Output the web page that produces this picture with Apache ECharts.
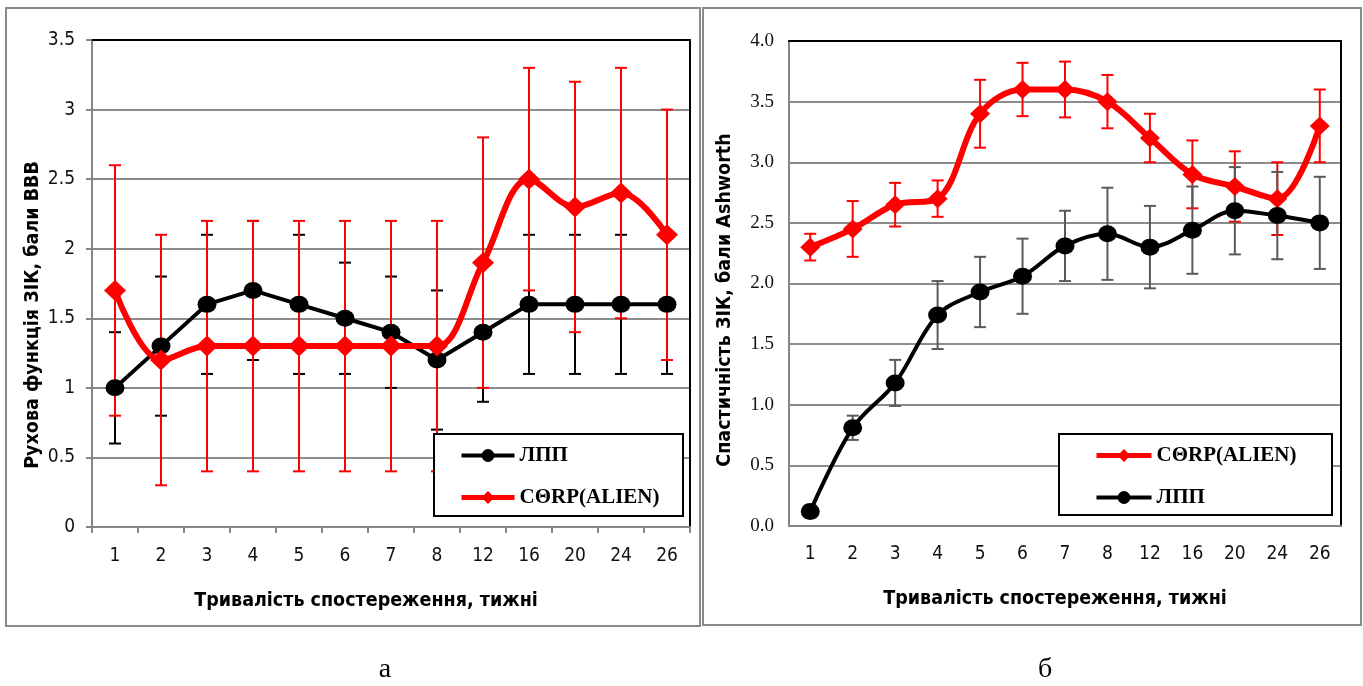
<!DOCTYPE html>
<html>
<head>
<meta charset="utf-8">
<script src="https://cdn.jsdelivr.net/npm/echarts@6/dist/echarts.min.js"></script>
<style>
  html, body { margin: 0; padding: 0; background: #fff; }
  #chart { width: 1363px; height: 686px; }
</style>
</head>
<body>
<div id="chart"></div>
<script>
// Observation weeks (shared category axis of both panels)
const weeks = ['1', '2', '3', '4', '5', '6', '7', '8', '12', '16', '20', '24', '26'];

// Panel "а": motor function of the hind limbs, BBB score
const bbbLpp      = [1.0, 1.3, 1.6, 1.7, 1.6, 1.5, 1.4, 1.2, 1.4, 1.6, 1.6, 1.6, 1.6];
const bbbLppErr   = [0.4, 0.5, 0.5, 0.5, 0.5, 0.4, 0.4, 0.5, 0.5, 0.5, 0.5, 0.5, 0.5];
const bbbCorp     = [1.7, 1.2, 1.3, 1.3, 1.3, 1.3, 1.3, 1.3, 1.9, 2.5, 2.3, 2.4, 2.1];
const bbbCorpErr  = [0.9, 0.9, 0.9, 0.9, 0.9, 0.9, 0.9, 0.9, 0.9, 0.8, 0.9, 0.9, 0.9];

// Panel "б": spasticity, Ashworth score
const ashCorp     = [2.3, 2.45, 2.65, 2.7, 3.4, 3.6, 3.6, 3.5, 3.2, 2.9, 2.8, 2.7, 3.3];
const ashCorpErr  = [0.11, 0.23, 0.18, 0.15, 0.28, 0.22, 0.23, 0.22, 0.2, 0.28, 0.29, 0.3, 0.3];
const ashLpp      = [0.12, 0.81, 1.18, 1.74, 1.93, 2.06, 2.31, 2.41, 2.3, 2.44, 2.6, 2.56, 2.5];
const ashLppErr   = [0.05, 0.1, 0.19, 0.28, 0.29, 0.31, 0.29, 0.38, 0.34, 0.36, 0.36, 0.36, 0.38];

// Axis ranges
const bbbAxis = { min: 0, max: 3.5, interval: 0.5 };
const ashAxis = { min: 0, max: 4, interval: 0.5 };

const NAME_LPP = 'ЛПП';
const NAME_CORP = 'СΘRP(ALIEN)';

const SANS = "'Liberation Sans Narrow', 'DejaVu Sans Condensed', 'Liberation Sans', sans-serif";
const SERIF = "'Liberation Serif', 'DejaVu Serif', serif";
const GRID_GRAY = '#8c8c8c';

function errData(mean, err) {
  return mean.map((m, i) => [i, +(m - err[i]).toFixed(3), +(m + err[i]).toFixed(3)]);
}

function errorBarSeries(mean, err, color, axisIdx) {
  return {
    type: 'custom',
    xAxisIndex: axisIdx,
    yAxisIndex: axisIdx,
    data: errData(mean, err),
    encode: { x: 0, y: [1, 2] },
    silent: true,
    renderItem: function (params, api) {
      const idx = api.value(0);
      const top = api.coord([idx, api.value(2)]);
      const bot = api.coord([idx, api.value(1)]);
      const half = 6;
      const style = { stroke: color, lineWidth: 2 };
      return {
        type: 'group',
        children: [
          { type: 'line', shape: { x1: top[0], y1: top[1], x2: bot[0], y2: bot[1] }, style },
          { type: 'line', shape: { x1: top[0] - half, y1: top[1], x2: top[0] + half, y2: top[1] }, style },
          { type: 'line', shape: { x1: bot[0] - half, y1: bot[1], x2: bot[0] + half, y2: bot[1] }, style }
        ]
      };
    }
  };
}

const tickLabelSans = { fontFamily: SANS, fontSize: 19, color: '#111' };

const legendItems = {
  lpp: { name: NAME_LPP, lineStyle: { width: 4 } },
  corp: { name: NAME_CORP, lineStyle: { width: 5 } }
};

const legendCommon = {
  orient: 'vertical', top: 445, padding: 0, z: 10,
  itemHeight: 16, itemGap: 21, selectedMode: false,
  textStyle: { fontFamily: SERIF, fontWeight: 'bold', fontSize: 21, color: '#000' }
};

const titleStyle = { fontFamily: SANS, fontWeight: 'bold', fontSize: 19.5, fill: '#000', align: 'center', verticalAlign: 'middle' };

const option = {
  animation: false,
  backgroundColor: '#fff',
  grid: [
    { left: 92, top: 40, width: 598, height: 487 },
    { left: 789, top: 41, width: 552, height: 485 }
  ],
  xAxis: [
    {
      gridIndex: 0, type: 'category', data: weeks, boundaryGap: true,
      axisLine: { onZero: false, lineStyle: { color: '#868686', width: 2 } },
      axisTick: { show: true, length: 6, lineStyle: { color: '#868686', width: 2 } },
      axisLabel: Object.assign({ margin: 20, interval: 0 }, tickLabelSans),
      splitLine: { show: false }
    },
    {
      gridIndex: 1, type: 'category', data: weeks, boundaryGap: true,
      axisLine: { onZero: false, lineStyle: { color: '#868686', width: 2 } },
      axisTick: { show: false },
      axisLabel: Object.assign({ margin: 19, interval: 0 }, tickLabelSans),
      splitLine: { show: false }
    },
    {
      gridIndex: 0, type: 'category', data: weeks, position: 'top',
      axisLine: { onZero: false, lineStyle: { color: '#000', width: 2 } },
      axisTick: { show: false }, axisLabel: { show: false }, splitLine: { show: false }
    },
    {
      gridIndex: 1, type: 'category', data: weeks, position: 'top',
      axisLine: { onZero: false, lineStyle: { color: '#000', width: 2 } },
      axisTick: { show: false }, axisLabel: { show: false }, splitLine: { show: false }
    }
  ],
  yAxis: [
    {
      gridIndex: 0, type: 'value', min: bbbAxis.min, max: bbbAxis.max, interval: bbbAxis.interval,
      axisLine: { show: true, lineStyle: { color: '#868686', width: 2 } },
      axisTick: { show: true, length: 6, lineStyle: { color: '#868686', width: 2 } },
      axisLabel: Object.assign({ margin: 17 }, tickLabelSans),
      splitLine: { show: true, lineStyle: { color: GRID_GRAY, width: 2 } }
    },
    {
      gridIndex: 1, type: 'value', min: ashAxis.min, max: ashAxis.max, interval: ashAxis.interval,
      axisLine: { show: true, lineStyle: { color: '#868686', width: 2 } },
      axisTick: { show: false },
      axisLabel: {
        margin: 15, fontFamily: SERIF, fontSize: 19, color: '#111',
        formatter: v => v.toFixed(1)
      },
      splitLine: { show: true, lineStyle: { color: GRID_GRAY, width: 2 } }
    },
    {
      gridIndex: 0, type: 'value', position: 'right',
      min: bbbAxis.min, max: bbbAxis.max, interval: bbbAxis.interval,
      axisLine: { show: true, lineStyle: { color: '#000', width: 2 } },
      axisTick: { show: false }, axisLabel: { show: false }, splitLine: { show: false }
    },
    {
      gridIndex: 1, type: 'value', position: 'right',
      min: ashAxis.min, max: ashAxis.max, interval: ashAxis.interval,
      axisLine: { show: true, lineStyle: { color: '#000', width: 2 } },
      axisTick: { show: false }, axisLabel: { show: false }, splitLine: { show: false }
    }
  ],
  legend: [
    Object.assign({ data: [legendItems.lpp, legendItems.corp], left: 459, itemWidth: 53 }, legendCommon),
    Object.assign({ data: [legendItems.corp, legendItems.lpp], left: 1094, itemWidth: 55 }, legendCommon)
  ],
  series: [
    // Panel а
    errorBarSeries(bbbLpp, bbbLppErr, '#000', 0),
    {
      name: NAME_LPP, type: 'line', xAxisIndex: 0, yAxisIndex: 0, data: bbbLpp,
      symbol: 'circle', symbolSize: [19, 17], smooth: false,
      lineStyle: { color: '#000', width: 4 }, itemStyle: { color: '#000' }
    },
    errorBarSeries(bbbCorp, bbbCorpErr, '#ff0000', 0),
    {
      name: NAME_CORP, type: 'line', xAxisIndex: 0, yAxisIndex: 0, data: bbbCorp,
      symbol: 'diamond', symbolSize: [22, 21], smooth: 0.35,
      lineStyle: { color: '#ff0000', width: 6 }, itemStyle: { color: '#ff0000' }
    },
    // Panel б
    errorBarSeries(ashCorp, ashCorpErr, '#ff0000', 1),
    {
      name: NAME_CORP, type: 'line', xAxisIndex: 1, yAxisIndex: 1, data: ashCorp,
      symbol: 'diamond', symbolSize: [20, 19], smooth: 0.35,
      lineStyle: { color: '#ff0000', width: 6 }, itemStyle: { color: '#ff0000' }
    },
    errorBarSeries(ashLpp, ashLppErr, '#5a5a5a', 1),
    {
      name: NAME_LPP, type: 'line', xAxisIndex: 1, yAxisIndex: 1, data: ashLpp,
      symbol: 'circle', symbolSize: [19, 17], smooth: 0.35,
      lineStyle: { color: '#000', width: 4 }, itemStyle: { color: '#000' }
    }
  ],
  graphic: [
    // panel frames
    { type: 'rect', shape: { x: 6, y: 8, width: 694, height: 618 }, style: { fill: 'none', stroke: '#8a8a8a', lineWidth: 2 }, z: -10 },
    { type: 'rect', shape: { x: 703, y: 8, width: 658, height: 617 }, style: { fill: 'none', stroke: '#8a8a8a', lineWidth: 2 }, z: -10 },
    // legend frames
    { type: 'rect', shape: { x: 434, y: 434, width: 249, height: 82 }, style: { fill: '#fff', stroke: '#000', lineWidth: 2 }, z: 5 },
    { type: 'rect', shape: { x: 1059, y: 434, width: 273, height: 81 }, style: { fill: '#fff', stroke: '#000', lineWidth: 2 }, z: 5 },
    // axis titles
    { type: 'text', x: 33, y: 315, rotation: Math.PI / 2, style: Object.assign({ text: 'Рухова функція ЗІК, бали ВВВ' }, titleStyle) },
    { type: 'text', x: 366, y: 601, style: Object.assign({ text: 'Тривалість спостереження, тижні' }, titleStyle) },
    { type: 'text', x: 725, y: 300, rotation: Math.PI / 2, style: Object.assign({ text: 'Спастичність ЗІК, бали Ashworth' }, titleStyle) },
    { type: 'text', x: 1055, y: 599, style: Object.assign({ text: 'Тривалість спостереження, тижні' }, titleStyle) },
    // panel captions
    { type: 'text', x: 385, y: 670, style: { text: 'а', fontFamily: SERIF, fontSize: 28, fill: '#000', align: 'center', verticalAlign: 'middle' } },
    { type: 'text', x: 1045, y: 670, style: { text: 'б', fontFamily: SERIF, fontSize: 28, fill: '#000', align: 'center', verticalAlign: 'middle' } }
  ]
};

const chart = echarts.init(document.getElementById('chart'), null, { renderer: 'canvas' });
chart.setOption(option);
</script>
</body>
</html>
